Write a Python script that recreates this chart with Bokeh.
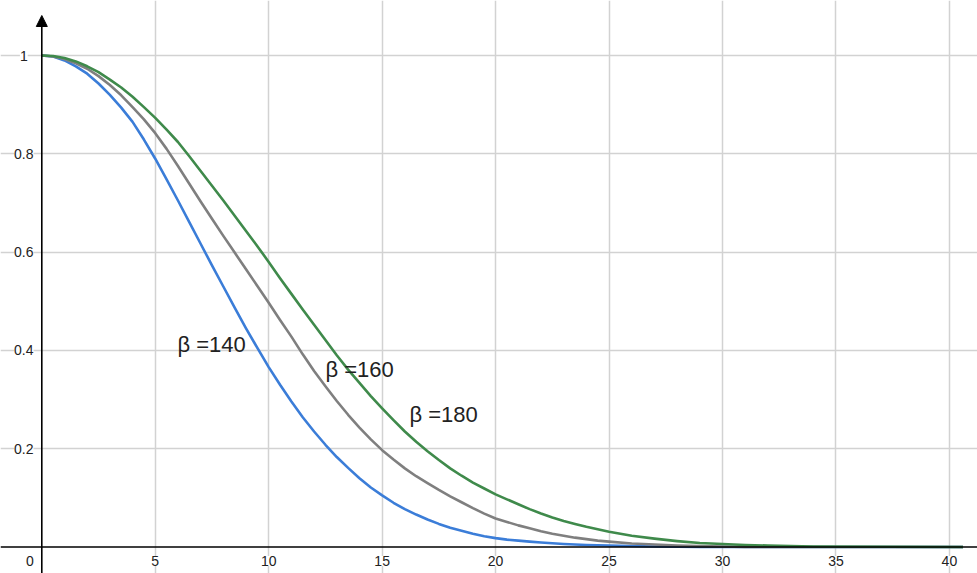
from bokeh.plotting import figure
from bokeh.models import Range1d, Grid, FixedTicker, Span, Arrow, NormalHead
from bokeh.core.properties import value
from bokeh.embed import file_html
from bokeh.resources import INLINE

# ---- data ----
x_vals = [0, 0.5, 1, 1.5, 2, 2.5, 3, 3.5, 4, 4.5, 5, 5.5, 6, 6.5, 7, 7.5, 8, 8.5,
          9, 9.5, 10, 10.5, 11, 11.5, 12, 12.5, 13, 13.5, 14, 14.5, 15, 15.5, 16,
          16.5, 17, 17.5, 18, 18.5, 19, 19.5, 20, 20.5, 21, 21.5, 22, 22.5, 23,
          23.5, 24, 24.5, 25, 26, 27, 28, 29, 30, 31, 32, 33, 34, 40.6]
beta_140 = [1.0, 0.998, 0.99, 0.978, 0.963, 0.943, 0.92, 0.894, 0.865, 0.829,
            0.79, 0.748, 0.705, 0.661, 0.617, 0.573, 0.53, 0.487, 0.445, 0.405,
            0.366, 0.33, 0.296, 0.264, 0.235, 0.208, 0.183, 0.161, 0.14, 0.121,
            0.105, 0.09, 0.077, 0.066, 0.056, 0.047, 0.039, 0.033, 0.027, 0.022,
            0.018, 0.015, 0.013, 0.011, 0.009, 0.0075, 0.006, 0.005, 0.004, 0.0035,
            0.003, 0.002, 0.001, 0.0005, 0.0, 0.0, 0.0, 0.0, 0.0, 0.0, 0.0]
beta_160 = [1.0, 0.998, 0.993, 0.984, 0.973, 0.958, 0.94, 0.919, 0.895, 0.870,
            0.842, 0.810, 0.775, 0.739, 0.703, 0.668, 0.633, 0.599, 0.565, 0.531,
            0.497, 0.462, 0.428, 0.392, 0.358, 0.327, 0.297, 0.269, 0.243, 0.219,
            0.197, 0.178, 0.160, 0.144, 0.130, 0.116, 0.103, 0.091, 0.079, 0.068,
            0.058, 0.051, 0.044, 0.038, 0.032, 0.027, 0.023, 0.019, 0.016, 0.013,
            0.011, 0.007, 0.005, 0.003, 0.002, 0.001, 0.0, 0.0, 0.0, 0.0, 0.0]
beta_180 = [1.0, 0.999, 0.995, 0.988, 0.978, 0.966, 0.951, 0.935, 0.916, 0.895,
            0.873, 0.849, 0.824, 0.795, 0.765, 0.735, 0.705, 0.674, 0.643, 0.612,
            0.58, 0.547, 0.515, 0.483, 0.452, 0.421, 0.39, 0.361, 0.334, 0.307,
            0.282, 0.258, 0.235, 0.214, 0.195, 0.177, 0.16, 0.145, 0.131, 0.119,
            0.107, 0.097, 0.087, 0.077, 0.068, 0.060, 0.053, 0.047, 0.041, 0.036,
            0.031, 0.023, 0.017, 0.012, 0.008, 0.006, 0.004, 0.003, 0.002, 0.001, 0.0]
series_labels = ["\u03b2 =140", "\u03b2 =160", "\u03b2 =180"]

x_ticks = [5, 10, 15, 20, 25, 30, 35, 40]
x_tick_labels = ["5", "10", "15", "20", "25", "30", "35", "40"]
y_ticks = [0.2, 0.4, 0.6, 0.8, 1.0]
y_tick_labels = ["0.2", "0.4", "0.6", "0.8", "1"]
origin_label = "0"

# ---- styling / layout ----
W, H = 977, 573
PX_PER_X = 22.69
PX_PER_Y = 491.5
X0_PAGE, Y0_PAGE = 41.3, 546.5   # pixel position of the data origin
x_start = (0 - X0_PAGE) / PX_PER_X
x_end = (W - X0_PAGE) / PX_PER_X
y_end = (Y0_PAGE - 0) / PX_PER_Y
y_start = (Y0_PAGE - H) / PX_PER_Y

FONT = value("Liberation Sans")

p = figure(width=W, height=H, output_backend="svg", toolbar_location=None,
           x_axis_type=None, y_axis_type=None,
           x_range=Range1d(x_start, x_end), y_range=Range1d(y_start, y_end),
           min_border=0, outline_line_color=None,
           background_fill_color="white", border_fill_color="white")

grid_style = dict(grid_line_color="#d2d2d2", grid_line_width=1.5)
p.add_layout(Grid(dimension=0, ticker=FixedTicker(ticks=x_ticks), **grid_style))
p.add_layout(Grid(dimension=1, ticker=FixedTicker(ticks=y_ticks), **grid_style))

# axes through the origin
p.add_layout(Span(location=0, dimension="width", line_color="black", line_width=1.6))
p.add_layout(Arrow(x_start=0, y_start=y_start - 0.05, x_end=0,
                   y_end=(Y0_PAGE - 15) / PX_PER_Y, line_color="black", line_width=1.6,
                   end=NormalHead(size=11, fill_color="black", line_color="black")))

# curves
colors = ["#3b7dd8", "#7f7f7f", "#3f8a4b"]
for ys, c in zip([beta_140, beta_160, beta_180], colors):
    p.line(x_vals, ys, line_color=c, line_width=2.6, line_join="round")

# tick labels
dy = -14 / PX_PER_Y
p.text(x=x_ticks, y=[dy] * len(x_ticks), text=x_tick_labels, text_font=FONT,
       text_font_size="14px", text_color="#222222", text_align="center",
       text_baseline="middle", background_fill_color="white")
p.text(x=[0] * len(y_ticks), y=y_ticks, text=y_tick_labels, x_offset=-18,
       text_font=FONT, text_font_size="14px", text_color="#222222",
       text_align="center", text_baseline="middle", background_fill_color="white")
p.text(x=[0], y=[dy], text=[origin_label], x_offset=-12, text_font=FONT,
       text_font_size="14px", text_color="#222222", text_align="center",
       text_baseline="middle")

# series annotations
lab_x = [5.98, 12.5, 16.2]
lab_y = [0.413, 0.361, 0.27]
p.text(x=lab_x, y=lab_y, text=series_labels, text_font=FONT, text_font_size="22px",
       text_color="#222222", text_align="left", text_baseline="middle")

open("out.html", "w").write(file_html(p, INLINE))
